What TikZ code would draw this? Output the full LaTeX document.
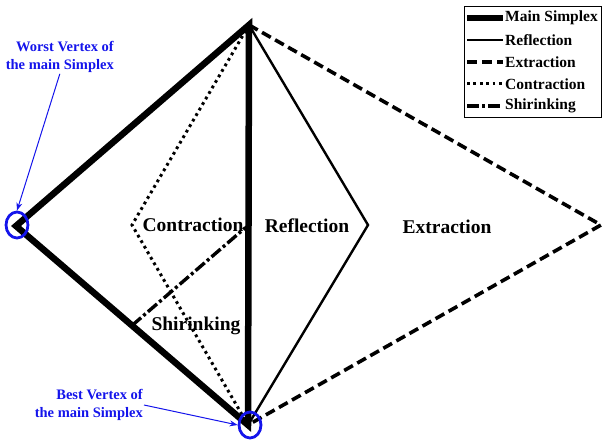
\documentclass[tikz,border=0pt]{standalone}
\usepackage{fontspec}
\setmainfont{Liberation Serif}
\usetikzlibrary{arrows.meta, positioning, calc, fit, shapes.geometric}
\definecolor{notecol}{RGB}{20,20,235}

\begin{document}
\begin{tikzpicture}[
  x=1pt, y=-1pt,
  lbl/.style={font=\fontsize{19.5}{22}\selectfont\bfseries, inner sep=1pt},
  legtext/.style={font=\fontsize{15.5}{18}\selectfont\bfseries, anchor=west, inner sep=1pt},
  note/.style={font=\fontsize{14.5}{18}\selectfont\bfseries, text=notecol, align=right, inner sep=1pt},
  mainsx/.style={line width=6.5pt, line join=miter},
  refl/.style={line width=2.4pt},
  extr/.style={line width=3.6pt, dash pattern=on 10pt off 5pt},
  contr/.style={line width=3pt, dash pattern=on 2.8pt off 3.6pt},
  shrk/.style={line width=3.4pt, dash pattern=on 12pt off 3pt on 3pt off 3pt},
  vring/.style={ellipse, draw=notecol, line width=2.8pt, minimum width=22pt,
                minimum height=26pt, inner sep=0pt},
  pointer/.style={-{Stealth[length=8pt, width=6pt]}, draw=notecol, line width=1pt},
]
\useasboundingbox (0,0) rectangle (603,441);

% simplex points
\coordinate (T) at (249,25);
\coordinate (W) at (16,226);
\coordinate (B) at (248,425);
\coordinate (R) at (368,225);
\coordinate (E) at (601,225);
\coordinate (C) at (132,225);
\coordinate (S1) at ($(W)!0.5!(B)$);
\coordinate (S2) at ($(T)!0.5!(B)$);

\draw[extr] (T) -- (E) -- (B);
\draw[contr] (T) -- (C) -- (B);
\draw[refl] (T) -- (R) -- (B);
\draw[shrk, shorten >=4pt] (S1) -- (S2);
\draw[mainsx] (T) -- (W) -- (B) -- cycle;

\node[lbl] (lcon) at (193,225) {Contraction};
\node[lbl] (lref) at (307,226) {Reflection};
\node[lbl] (lext) at (447,227) {Extraction};
\node[lbl] (lshr) at (196,326) {Shirinking};

% best / worst vertex
\node[vring] (wr) at (17,225) {};
\node[vring] (br) at (250,425) {};
\node[note, anchor=east] (worst) at (115,57) {Worst Vertex of\\the main Simplex};
\node[note, anchor=east] (best) at (144,405) {Best Vertex of\\the main Simplex};
\draw[pointer] (worst.south) -- (wr.north);
\draw[pointer] (best.east) -- (br.west);

% legend
\foreach \s/\t [count=\i] in {mainsx/Main Simplex, refl/Reflection, extr/Extraction,
                               contr/Contraction, shrk/Shirinking} {
  \coordinate (ls\i) at (467,{18+22*(\i-1)});
  \node[legtext] (lt\i) at (504,{18+22*(\i-1)}) {\t};
  \draw[\s, line join=round, shorten >=1.5pt] (ls\i) -- (lt\i.west);
}
\node[draw, line width=1pt, inner sep=3pt, fit=(ls1)(lt1)(lt5)] (legend) {};
\end{tikzpicture}
\end{document}
